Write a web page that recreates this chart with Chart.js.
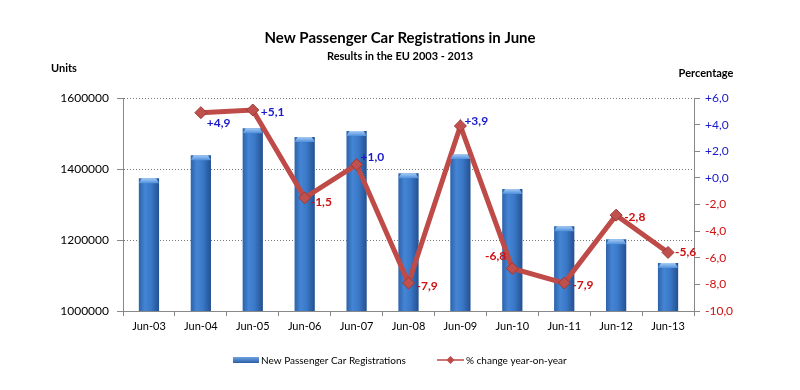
<!DOCTYPE html>
<html>
<head>
<meta charset="utf-8">
<script src="https://cdn.jsdelivr.net/npm/chart.js@4"></script>
<style>
  html, body { margin: 0; padding: 0; background: #fff; }
  #wrap { width: 800px; height: 390px; position: relative; }
</style>
</head>
<body>
<div id="wrap"><canvas id="chart"></canvas></div>
<script>
// data
const categories = ['Jun-03', 'Jun-04', 'Jun-05', 'Jun-06', 'Jun-07', 'Jun-08', 'Jun-09', 'Jun-10', 'Jun-11', 'Jun-12', 'Jun-13'];
const registrations = [1374000, 1439000, 1515000, 1490000, 1507000, 1388000, 1442000, 1344000, 1239000, 1202000, 1135000];
const yoyChange = [null, 4.9, 5.1, -1.5, 1.0, -7.9, 3.9, -6.8, -7.9, -2.8, -5.6];
const leftTicks = [1000000, 1200000, 1400000, 1600000];
const rightTicks = [-10, -8, -6, -4, -2, 0, 2, 4, 6];

const FONT = 'Lato, "Open Sans", sans-serif';
const BLUE_TXT = '#1a1acc';
const RED_TXT = '#d01010';
const LINE_RED = '#be4b48';

function fmtPct(v) {
    const s = Math.abs(v).toFixed(1).replace('.', ',');
    return (v < 0 ? '-' : '+') + s;
}

// label offsets per point (dx, dy, align)
const labelPos = [null, [6, 10, 'left'], [8, 2, 'left'], [6, 4, 'left'], [4, -7, 'left'], [8, 3, 'left'],
    [4, -5, 'left'], [-6, -12, 'right'], [8, 2, 'left'], [8, 2, 'left'], [7, 0, 'left']];

function barGradient(ctx) {
    const chart = ctx.chart;
    const x = chart.scales.x;
    if (!x || !chart.chartArea) return '#3a78c8';
    const cx = x.getPixelForValue(ctx.dataIndex);
    const w = (chart.chartArea.right - chart.chartArea.left) / categories.length * 0.39;
    const g = chart.ctx.createLinearGradient(cx - w / 2, 0, cx + w / 2, 0);
    g.addColorStop(0, '#2c62aa');
    g.addColorStop(0.3, '#4585d4');
    g.addColorStop(0.6, '#3a78c8');
    g.addColorStop(1, '#24508f');
    return g;
}

const decorPlugin = {
    id: 'decor',
    afterDatasetsDraw(chart) {
        const c = chart.ctx;
        // light caps on bar tops
        const bars = chart.getDatasetMeta(1).data;
        bars.forEach(b => {
            const g = c.createLinearGradient(0, b.y, 0, b.y + 5);
            g.addColorStop(0, '#a6ccf4');
            g.addColorStop(1, '#4f8fdc');
            c.fillStyle = g;
            c.beginPath();
            c.moveTo(b.x - b.width / 2, b.y + 5);
            c.lineTo(b.x - b.width / 2 + 3, b.y);
            c.lineTo(b.x + b.width / 2 - 3, b.y);
            c.lineTo(b.x + b.width / 2, b.y + 5);
            c.closePath();
            c.fill();
        });
        // point labels
        const pts = chart.getDatasetMeta(0).data;
        c.save();
        c.font = 'bold 12px ' + FONT;
        c.textBaseline = 'middle';
        pts.forEach((p, i) => {
            const v = yoyChange[i];
            if (v === null || !labelPos[i]) return;
            c.fillStyle = v < 0 ? RED_TXT : BLUE_TXT;
            c.textAlign = labelPos[i][2];
            c.fillText(fmtPct(v), p.x + labelPos[i][0], p.y + labelPos[i][1]);
        });
        c.restore();
    },
    afterDraw(chart) {
        const c = chart.ctx;
        c.save();
        c.fillStyle = '#000';
        c.textAlign = 'center';
        c.textBaseline = 'middle';
        c.font = 'bold 15px ' + FONT;
        c.fillText('New Passenger Car Registrations in June', 400, 38);
        c.font = 'bold 11px ' + FONT;
        c.fillText('Results in the EU 2003 - 2013', 400, 56);
        c.fillText('Units', 64, 68);
        c.fillText('Percentage', 706, 73);

        // legend
        c.textAlign = 'left';
        c.font = '10px ' + FONT;
        const lg = c.createLinearGradient(0, 357, 0, 363);
        lg.addColorStop(0, '#6fa3e2');
        lg.addColorStop(1, '#2c5ea6');
        c.fillStyle = lg;
        c.fillRect(233, 357, 26, 6);
        c.fillStyle = '#000';
        c.fillText('New Passenger Car Registrations', 261, 361);
        c.strokeStyle = LINE_RED;
        c.lineWidth = 1.5;
        c.beginPath();
        c.moveTo(437, 360);
        c.lineTo(464, 360);
        c.stroke();
        c.fillStyle = LINE_RED;
        c.beginPath();
        c.moveTo(450.5, 356);
        c.lineTo(454.5, 360);
        c.lineTo(450.5, 364);
        c.lineTo(446.5, 360);
        c.closePath();
        c.fill();
        c.fillStyle = '#000';
        c.fillText('% change year-on-year', 466, 361);
        c.restore();
    }
};

new Chart(document.getElementById('chart'), {
    data: {
        labels: categories,
        datasets: [
            {
                type: 'line',
                label: '% change year-on-year',
                data: yoyChange,
                yAxisID: 'y1',
                borderColor: LINE_RED,
                borderWidth: 5,
                pointStyle: 'rectRot',
                pointRadius: 6,
                pointBackgroundColor: '#c0504d',
                pointBorderColor: '#9a3a37',
                pointBorderWidth: 1,
                tension: 0,
                order: 0
            },
            {
                type: 'bar',
                label: 'New Passenger Car Registrations',
                data: registrations,
                yAxisID: 'y',
                backgroundColor: barGradient,
                barPercentage: 0.39,
                categoryPercentage: 1,
                order: 1
            }
        ]
    },
    options: {
        responsive: true,
        maintainAspectRatio: false,
        animation: false,
        layout: { padding: { top: 98, bottom: 49, left: 0, right: 0 } },
        plugins: { legend: { display: false }, tooltip: { enabled: false } },
        scales: {
            x: {
                offset: true,
                afterFit(s) { s.height = 30; },
                grid: { offset: true, drawOnChartArea: false, drawTicks: true, tickLength: 5, color: '#888' },
                border: { color: '#888' },
                ticks: { color: '#000', font: { family: FONT, size: 11 }, padding: 4 }
            },
            y: {
                position: 'left',
                min: 1000000,
                max: 1600000,
                afterFit(s) { s.width = 123; },
                afterBuildTicks(s) { s.ticks = leftTicks.map(v => ({ value: v })); },
                grid: { color: '#777', tickBorderDash: [], tickColor: '#888', tickLength: 6 },
                border: { color: '#888', dash: [1, 2] },
                ticks: { color: '#000', font: { family: FONT, size: 12 }, padding: 8, callback: v => String(v) }
            },
            y1: {
                position: 'right',
                min: -10,
                max: 6,
                afterFit(s) { s.width = 106; },
                afterBuildTicks(s) { s.ticks = rightTicks.map(v => ({ value: v })); },
                grid: { drawOnChartArea: false, tickColor: '#888', tickLength: 6 },
                border: { color: '#888' },
                ticks: {
                    font: { family: FONT, size: 12 },
                    padding: 5,
                    color: ctx => (ctx.tick.value < 0 ? RED_TXT : BLUE_TXT),
                    callback: v => fmtPct(v)
                }
            }
        }
    },
    plugins: [decorPlugin]
});
</script>
</body>
</html>
